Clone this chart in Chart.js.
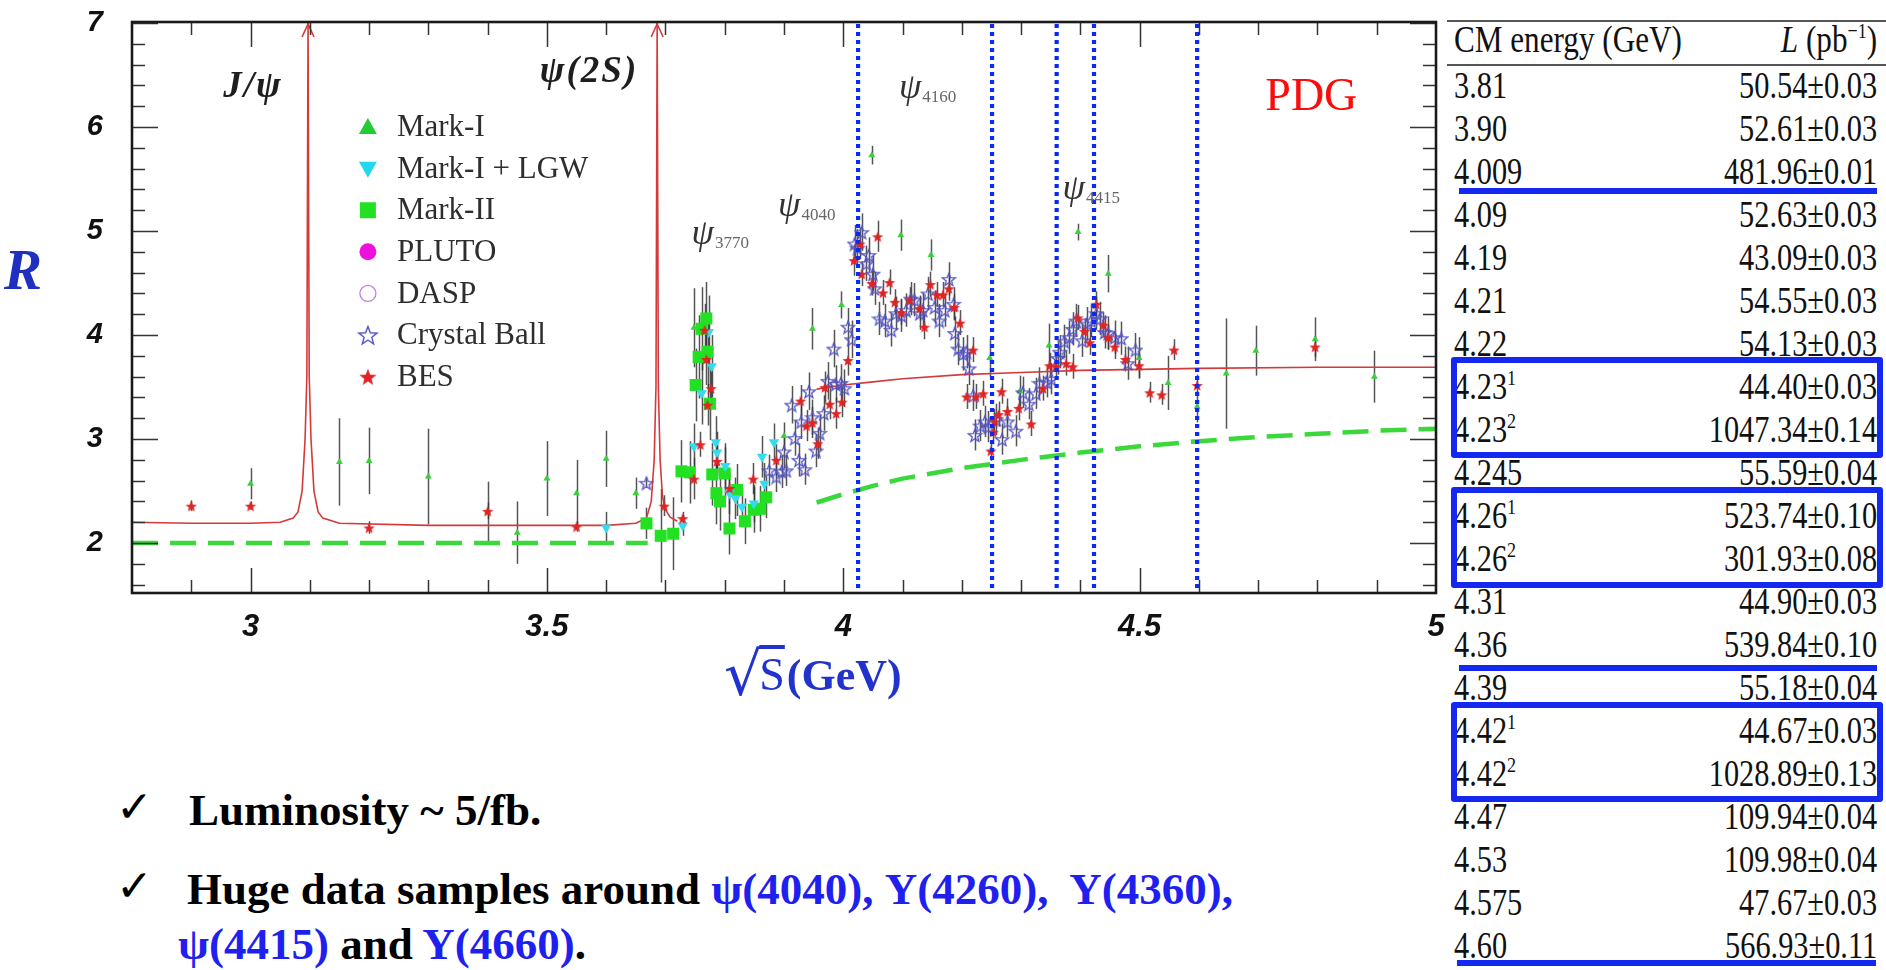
<!DOCTYPE html>
<html>
<head>
<meta charset="utf-8">
<title>R ratio scan</title>
<script src="https://cdn.jsdelivr.net/npm/chart.js@4.4.1/dist/chart.umd.min.js"></script>
<style>
  html, body { margin: 0; padding: 0; background: #fff; }
  body { width: 1886px; height: 970px; position: relative; overflow: hidden; font-family: "Liberation Serif", "Times New Roman", serif; }
  #plot { position: absolute; left: 0; top: 0; width: 1446px; height: 700px; }
  #rLabel { position: absolute; left: 4px; top: 241px; font: italic bold 57px/1 "Liberation Serif", serif; color: #1f2fbf; }
  #xTitle { position: absolute; left: 724px; top: 644px; font: 46px/1 "Liberation Serif", serif; color: #2233cc; white-space: nowrap; }
  #xTitle .rad { font-family: "DejaVu Serif", serif; font-size: 60px; vertical-align: -5px; }
  #xTitle .ov { text-decoration: overline; margin-left: -3px; padding-right: 2px; }
  #xTitle b { font-weight: bold; font-size: 44px; }

  .rule { position: absolute; background: #555; height: 2px; left: 1447px; width: 439px; }
  .blue { position: absolute; background: #1428f0; height: 6px; }
  .box { position: absolute; border: 6px solid #1428f0; border-radius: 3px; box-sizing: border-box; left: 1451px; width: 432px; z-index: 2; }
  #tbl { position: absolute; left: 1454px; top: 0; width: 516px; transform: scaleX(0.82); transform-origin: 0 0; color: #111; font-size: 37px; }
  #tbl .row { position: absolute; left: 0; width: 516px; height: 43px; line-height: 43px; display: flex; justify-content: space-between; white-space: nowrap; }
  #tbl sup { font-size: 22px; vertical-align: 14px; line-height: 0; }

  .chk { position: absolute; font: 44px/1 "DejaVu Sans", sans-serif; color: #000; }
  .note { position: absolute; font: bold 45px/1 "Liberation Serif", serif; color: #000; white-space: nowrap; }
  .note .b { color: #1f1ff0; }
</style>
</head>
<body>
<div id="plot"><canvas id="rChart"></canvas></div>
<div id="rLabel">R</div>
<div id="xTitle"><span class="rad">√</span><span class="ov">S</span><b>(GeV)</b></div>

<div class="rule" style="top:20px"></div>
<div class="rule" style="top:64px"></div>
<div id="tbl"></div>
<div class="blue" style="left:1459px; top:188px; width:418px"></div>
<div class="box" style="top:357px; height:101px"></div>
<div class="box" style="top:487px; height:101px"></div>
<div class="blue" style="left:1459px; top:665px; width:418px"></div>
<div class="box" style="top:702px; height:100px"></div>
<div class="blue" style="left:1457px; top:960px; width:419px"></div>

<div class="chk" style="left:116px; top:785px">✓</div>
<div class="note" style="left:189px; top:788px">Luminosity ~ 5/fb.</div>
<div class="chk" style="left:116px; top:864px">✓</div>
<div class="note" style="left:187px; top:867px">Huge data samples around <span class="b">ψ(4040), Y(4260),&nbsp; Y(4360),</span></div>
<div class="note" style="left:178px; top:922px"><span class="b">ψ(4415)</span> and <span class="b">Y(4660)</span>.</div>

<script>
// axis ticks
const xTickValues = [3, 3.5, 4, 4.5, 5];
const yTickValues = [2, 3, 4, 5, 6, 7];

// measurements: [sqrt(s) GeV, R, error]
const markI = [
  [3.00, 2.57, 0.15], [3.15, 2.78, 0.42], [3.20, 2.79, 0.32], [3.30, 2.64, 0.46], [3.40, 2.30, 0.29],
  [3.45, 2.10, 0.30], [3.50, 2.62, 0.36], [3.55, 2.48, 0.32], [3.60, 2.81, 0.27], [3.65, 2.48, 0.15],
  [3.748, 4.07, 0.38], [3.900, 3.03, 0.13], [3.948, 4.06, 0.20], [3.997, 4.29, 0.13], [4.048, 5.73, 0.09],
  [4.097, 4.96, 0.15], [4.148, 4.77, 0.15], [4.247, 3.78, 0.18], [4.298, 3.46, 0.15], [4.347, 3.90, 0.21],
  [4.396, 4.99, 0.08], [4.447, 4.59, 0.18], [4.499, 3.78, 0.20], [4.548, 3.54, 0.26], [4.597, 3.31, 0.15],
  [4.646, 3.63, 0.53], [4.696, 3.85, 0.24], [4.796, 3.96, 0.21], [4.896, 3.60, 0.25]
];
const markILgw = [
  [3.600, 2.15, 0.15], [3.729, 2.17, 0.10], [3.748, 2.93, 0.22], [3.761, 3.44, 0.30], [3.773, 4.03, 0.35],
  [3.778, 3.70, 0.30], [3.785, 2.97, 0.25], [3.787, 2.87, 0.20], [3.801, 2.74, 0.22], [3.808, 2.48, 0.20],
  [3.818, 2.43, 0.20], [3.829, 2.35, 0.18], [3.849, 2.38, 0.18], [3.863, 2.83, 0.20], [3.867, 2.57, 0.20],
  [3.883, 2.97, 0.18]
];
const markII = [
  [3.668, 2.19, 0.15], [3.692, 2.07, 0.45], [3.713, 2.09, 0.35], [3.727, 2.69, 0.30], [3.741, 2.68, 0.30],
  [3.751, 3.52, 0.35], [3.756, 3.79, 0.40], [3.761, 4.06, 0.40], [3.769, 4.16, 0.35], [3.771, 3.84, 0.35],
  [3.775, 3.34, 0.35], [3.779, 2.66, 0.30], [3.786, 2.48, 0.30], [3.792, 2.40, 0.28], [3.800, 2.67, 0.25],
  [3.808, 2.14, 0.25], [3.821, 2.51, 0.25], [3.834, 2.21, 0.22], [3.849, 2.32, 0.22], [3.860, 2.33, 0.22],
  [3.870, 2.44, 0.20]
];
const pluto = [];
const dasp = [];
const crystalBall = [
  [3.668, 2.58, 0.05], [3.875, 2.70, 0.15], [3.887, 2.64, 0.15], [3.896, 2.69, 0.16], [3.900, 2.88, 0.16],
  [3.904, 2.70, 0.15], [3.913, 3.33, 0.18], [3.918, 3.01, 0.17], [3.925, 2.80, 0.16], [3.929, 3.17, 0.17],
  [3.935, 2.71, 0.15], [3.942, 3.46, 0.18], [3.948, 3.21, 0.17], [3.954, 2.89, 0.16], [3.960, 3.06, 0.17],
  [3.967, 3.25, 0.17], [3.974, 3.56, 0.18], [3.984, 3.87, 0.18], [3.987, 3.53, 0.18], [3.996, 3.54, 0.18],
  [4.002, 3.49, 0.18], [4.008, 4.08, 0.18], [4.014, 3.96, 0.18], [4.019, 4.88, 0.18], [4.024, 4.84, 0.18],
  [4.031, 4.99, 0.18], [4.039, 4.69, 0.17], [4.043, 4.77, 0.17], [4.050, 4.59, 0.17], [4.053, 4.45, 0.16],
  [4.061, 4.16, 0.16], [4.070, 4.14, 0.16], [4.081, 4.05, 0.16], [4.089, 4.21, 0.16], [4.098, 4.19, 0.16],
  [4.106, 4.24, 0.16], [4.114, 4.35, 0.16], [4.120, 4.34, 0.16], [4.129, 4.21, 0.16], [4.134, 4.24, 0.16],
  [4.143, 4.40, 0.16], [4.154, 4.27, 0.16], [4.162, 4.14, 0.16], [4.171, 4.24, 0.16], [4.178, 4.54, 0.16],
  [4.186, 4.30, 0.16], [4.188, 4.02, 0.16], [4.194, 3.87, 0.16], [4.202, 3.82, 0.16], [4.208, 3.84, 0.16],
  [4.212, 3.68, 0.16], [4.219, 3.42, 0.15], [4.222, 3.04, 0.15], [4.231, 3.13, 0.15], [4.239, 3.17, 0.15],
  [4.245, 3.12, 0.15], [4.258, 3.19, 0.15], [4.268, 3.00, 0.15], [4.277, 3.17, 0.15], [4.291, 3.08, 0.15],
  [4.303, 3.45, 0.15], [4.313, 3.34, 0.15], [4.325, 3.44, 0.15], [4.331, 3.54, 0.15], [4.343, 3.55, 0.15],
  [4.351, 3.58, 0.15], [4.362, 3.78, 0.16], [4.365, 3.84, 0.16], [4.373, 3.94, 0.16], [4.381, 3.98, 0.16],
  [4.387, 4.06, 0.16], [4.393, 4.14, 0.16], [4.403, 3.95, 0.16], [4.411, 4.11, 0.16], [4.418, 4.14, 0.16],
  [4.427, 4.21, 0.16], [4.433, 4.16, 0.16], [4.441, 4.03, 0.16], [4.447, 4.02, 0.16], [4.458, 3.98, 0.16],
  [4.469, 3.97, 0.16], [4.480, 3.73, 0.16], [4.493, 3.86, 0.16]
];
const bes = [
  [2.90, 2.36, 0.05], [3.00, 2.36, 0.04], [3.20, 2.15, 0.06], [3.40, 2.31, 0.08], [3.55, 2.16, 0.05],
  [3.698, 2.36, 0.10], [3.729, 2.24, 0.06], [3.748, 2.62, 0.20], [3.759, 2.95, 0.12], [3.766, 4.05, 0.25],
  [3.769, 3.77, 0.25], [3.771, 3.33, 0.20], [3.777, 3.49, 0.20], [3.787, 2.79, 0.15], [3.808, 2.53, 0.15],
  [3.848, 2.62, 0.15], [3.887, 2.80, 0.15], [3.928, 3.37, 0.15], [3.938, 3.13, 0.15], [3.948, 3.16, 0.15],
  [3.957, 2.96, 0.15], [3.969, 3.50, 0.15], [3.977, 3.34, 0.15], [3.988, 3.25, 0.15], [3.998, 3.36, 0.15],
  [4.008, 3.76, 0.15], [4.018, 4.72, 0.15], [4.028, 4.88, 0.15], [4.031, 4.59, 0.12], [4.048, 4.50, 0.12],
  [4.058, 4.95, 0.15], [4.067, 4.41, 0.12], [4.078, 4.51, 0.12], [4.087, 4.32, 0.12], [4.098, 4.22, 0.12],
  [4.112, 4.34, 0.12], [4.129, 4.26, 0.12], [4.137, 4.08, 0.12], [4.147, 4.49, 0.12], [4.158, 4.39, 0.12],
  [4.168, 4.39, 0.12], [4.178, 4.45, 0.12], [4.187, 4.27, 0.12], [4.197, 4.12, 0.12], [4.208, 3.41, 0.12],
  [4.219, 3.86, 0.12], [4.224, 3.41, 0.12], [4.236, 3.44, 0.12], [4.249, 2.89, 0.10], [4.253, 3.07, 0.12],
  [4.255, 3.17, 0.12], [4.262, 3.24, 0.12], [4.267, 3.46, 0.12], [4.277, 3.27, 0.12], [4.296, 3.30, 0.12],
  [4.317, 3.15, 0.12], [4.337, 3.49, 0.12], [4.348, 3.71, 0.12], [4.359, 3.70, 0.12], [4.376, 3.73, 0.12],
  [4.387, 3.70, 0.12], [4.396, 4.17, 0.12], [4.407, 4.04, 0.12], [4.416, 3.93, 0.12], [4.427, 4.30, 0.12],
  [4.439, 4.10, 0.12], [4.447, 3.98, 0.12], [4.458, 3.89, 0.12], [4.476, 3.77, 0.12], [4.499, 3.71, 0.12],
  [4.517, 3.45, 0.10], [4.537, 3.43, 0.10], [4.558, 3.86, 0.10], [4.597, 3.52, 0.10], [4.796, 3.89, 0.10]
];

// curves: [sqrt(s), R]; null breaks the line
const fitCurve = [
  [2.80, 2.20], [2.90, 2.19], [3.00, 2.19], [3.05, 2.20], [3.072, 2.24], [3.080, 2.30], [3.087, 2.50],
  [3.092, 3.00], [3.095, 3.60], [3.097, 7.00], [3.099, 3.60], [3.102, 3.00], [3.107, 2.50], [3.114, 2.30],
  [3.122, 2.24], [3.15, 2.19], [3.30, 2.17], [3.45, 2.17], [3.60, 2.17], [3.65, 2.19], [3.668, 2.24],
  [3.676, 2.40], [3.681, 2.80], [3.684, 3.50], [3.686, 7.00], [3.688, 3.50], [3.691, 2.80], [3.695, 2.45],
  [3.700, 2.32], [3.708, 2.25], [3.720, 2.21], [3.73, null], [3.955, 3.48], [4.00, 3.52], [4.05, 3.55],
  [4.10, 3.58], [4.20, 3.62], [4.30, 3.64], [4.40, 3.66], [4.50, 3.67], [4.60, 3.68], [4.80, 3.69], [5.00, 3.69]
];
const partonLevel = [
  [2.80, 2.00], [3.67, 2.00], [3.68, null], [3.955, 2.39], [4.00, 2.47], [4.05, 2.55], [4.10, 2.62],
  [4.20, 2.72], [4.30, 2.80], [4.40, 2.87], [4.50, 2.93], [4.60, 2.98], [4.70, 3.02], [4.80, 3.05],
  [4.90, 3.08], [5.00, 3.10]
];
const resonancePeaks = [3.097, 3.686];
const scanEnergies = [4.025, 4.251, 4.360, 4.423, 4.597];

const peakLabels = [
  { text: 'J/ψ', sub: '', x: 2.954, y: 6.29 },
  { text: 'ψ(2S)', sub: '', x: 3.488, y: 6.43 },
  { text: 'ψ', sub: '3770', x: 3.744, y: 4.875 },
  { text: 'ψ', sub: '4040', x: 3.890, y: 5.14 },
  { text: 'ψ', sub: '4160', x: 4.094, y: 6.28 },
  { text: 'ψ', sub: '4415', x: 4.370, y: 5.31 }
];

// luminosity table
const cmEnergy = ['3.81', '3.90', '4.009', '4.09', '4.19', '4.21', '4.22', '4.23', '4.23', '4.245', '4.26',
  '4.26', '4.31', '4.36', '4.39', '4.42', '4.42', '4.47', '4.53', '4.575', '4.60'];
const runTag = ['', '', '', '', '', '', '', '1', '2', '', '1', '2', '', '', '', '1', '2', '', '', '', ''];
const lumi = ['50.54', '52.61', '481.96', '52.63', '43.09', '54.55', '54.13', '44.40', '1047.34', '55.59', '523.74',
  '301.93', '44.90', '539.84', '55.18', '44.67', '1028.89', '109.94', '109.98', '47.67', '566.93'];
const lumiErr = ['0.03', '0.03', '0.01', '0.03', '0.03', '0.03', '0.03', '0.03', '0.14', '0.04', '0.10',
  '0.08', '0.03', '0.10', '0.04', '0.03', '0.13', '0.04', '0.04', '0.03', '0.11'];

const SERIF = '"Liberation Serif", "Times New Roman", "DejaVu Serif", serif';

const toPoints = arr => arr.map(p => ({ x: p[0], y: p[1], e: p[2] }));

const makeStar = (size, fill, stroke, lw) => {
  const c = document.createElement('canvas');
  c.width = c.height = size;
  const g = c.getContext('2d');
  const m = size / 2, R = size / 2 - lw, r = R * 0.42;
  g.beginPath();
  for (let i = 0; i < 10; i++) {
    const rad = i % 2 ? r : R;
    const a = -Math.PI / 2 + i * Math.PI / 5;
    g.lineTo(m + rad * Math.cos(a), m + 1 + rad * Math.sin(a));
  }
  g.closePath();
  if (fill) { g.fillStyle = fill; g.fill(); }
  if (stroke) { g.strokeStyle = stroke; g.lineWidth = lw; g.stroke(); }
  return c;
};

const cbStar = makeStar(16, null, '#5252c4', 1.3);
const besStar = makeStar(14, '#e02424', null, 1);
const cbStarBig = makeStar(22, null, '#5252c4', 1.4);
const besStarBig = makeStar(20, '#e02424', null, 1);

// legend rows, top to bottom
const legendRows = [
  { label: 'Mark-I', kind: 'tri', color: '#22cc33' },
  { label: 'Mark-I + LGW', kind: 'itri', color: '#22d8ee' },
  { label: 'Mark-II', kind: 'sq', color: '#22e022' },
  { label: 'PLUTO', kind: 'dot', color: '#ee11dd' },
  { label: 'DASP', kind: 'ring', color: '#c080e0' },
  { label: 'Crystal Ball', kind: 'img', img: cbStarBig },
  { label: 'BES', kind: 'img', img: besStarBig }
];

const drawMarker = (ctx, row, x, y) => {
  ctx.save();
  ctx.fillStyle = row.color;
  ctx.strokeStyle = row.color;
  ctx.beginPath();
  if (row.kind === 'tri') {
    ctx.moveTo(x, y - 9); ctx.lineTo(x + 9, y + 7); ctx.lineTo(x - 9, y + 7); ctx.closePath(); ctx.fill();
  } else if (row.kind === 'itri') {
    ctx.moveTo(x, y + 9); ctx.lineTo(x + 9, y - 7); ctx.lineTo(x - 9, y - 7); ctx.closePath(); ctx.fill();
  } else if (row.kind === 'sq') {
    ctx.rect(x - 8, y - 8, 16, 16); ctx.fill();
  } else if (row.kind === 'dot') {
    ctx.arc(x, y, 8.5, 0, Math.PI * 2); ctx.fill();
  } else if (row.kind === 'ring') {
    ctx.lineWidth = 1.3; ctx.arc(x, y, 8, 0, Math.PI * 2); ctx.stroke();
  } else if (row.kind === 'img') {
    ctx.drawImage(row.img, x - row.img.width / 2, y - row.img.height / 2);
  }
  ctx.restore();
};

const decorPlugin = {
  id: 'decor',
  beforeDatasetsDraw(chart) {
    const { ctx, chartArea: a, scales: { x, y } } = chart;
    ctx.save();
    ctx.beginPath();
    ctx.rect(a.left, a.top, a.right - a.left, a.bottom - a.top);
    ctx.clip();
    ctx.strokeStyle = 'rgba(55,55,55,0.85)';
    ctx.lineWidth = 1.5;
    chart.data.datasets.forEach(ds => {
      if (!ds.errorBars) return;
      ds.data.forEach(p => {
        const X = Math.round(x.getPixelForValue(p.x)) + 0.5;
        ctx.beginPath();
        ctx.moveTo(X, y.getPixelForValue(p.y - p.e));
        ctx.lineTo(X, y.getPixelForValue(p.y + p.e));
        ctx.stroke();
      });
    });
    ctx.restore();
  },
  afterDatasetsDraw(chart) {
    const { ctx, chartArea: a, scales: { x, y } } = chart;
    ctx.save();

    // arrow heads on the narrow resonances
    ctx.strokeStyle = '#d43a3a';
    ctx.lineWidth = 1.6;
    resonancePeaks.forEach(v => {
      const X = x.getPixelForValue(v);
      ctx.beginPath();
      ctx.moveTo(X - 6, a.top + 15);
      ctx.lineTo(X, a.top + 2);
      ctx.lineTo(X + 6, a.top + 15);
      ctx.stroke();
    });

    // blue dotted markers of the data-taking energies
    ctx.strokeStyle = '#0a2af5';
    ctx.lineWidth = 4.2;
    ctx.setLineDash([4, 4]);
    scanEnergies.forEach(v => {
      const X = x.getPixelForValue(v);
      ctx.beginPath();
      ctx.moveTo(X, a.top + 2);
      ctx.lineTo(X, a.bottom);
      ctx.stroke();
    });
    ctx.setLineDash([]);

    // inward ticks on all four sides
    ctx.strokeStyle = '#333';
    ctx.lineWidth = 1.5;
    for (let k = 8; k <= 35; k++) {
      const Y = Math.round(y.getPixelForValue(k / 5)) + 0.5;
      const len = k % 5 === 0 ? 26 : 13;
      ctx.beginPath();
      ctx.moveTo(a.left, Y); ctx.lineTo(a.left + len, Y);
      ctx.moveTo(a.right, Y); ctx.lineTo(a.right - len, Y);
      ctx.stroke();
    }
    for (let k = 29; k <= 49; k++) {
      const X = Math.round(x.getPixelForValue(k / 10)) + 0.5;
      const len = k % 5 === 0 ? 25 : 13;
      ctx.beginPath();
      ctx.moveTo(X, a.bottom); ctx.lineTo(X, a.bottom - len);
      ctx.moveTo(X, a.top); ctx.lineTo(X, a.top + len);
      ctx.stroke();
    }

    // frame
    ctx.strokeStyle = '#1a1a1a';
    ctx.lineWidth = 2.6;
    ctx.strokeRect(a.left, a.top, a.right - a.left, a.bottom - a.top);

    // resonance labels
    ctx.textBaseline = 'alphabetic';
    ctx.textAlign = 'left';
    peakLabels.forEach(l => {
      const X = x.getPixelForValue(l.x), Y = y.getPixelForValue(l.y);
      if (!l.sub) {
        ctx.fillStyle = '#1e1e1e';
        ctx.font = 'italic bold 37px ' + SERIF;
        ctx.letterSpacing = '2px';
        ctx.fillText(l.text, X, Y);
        ctx.letterSpacing = '0px';
      } else {
        ctx.fillStyle = '#333';
        ctx.font = 'italic 36px ' + SERIF;
        ctx.fillText(l.text, X, Y);
        const w = ctx.measureText(l.text).width;
        ctx.fillStyle = '#666';
        ctx.font = '17px ' + SERIF;
        ctx.fillText(l.sub, X + w + 1, Y + 4);
      }
    });

    // PDG tag
    ctx.fillStyle = '#ff0a0a';
    ctx.font = '46px ' + SERIF;
    ctx.fillText('PDG', x.getPixelForValue(4.712), y.getPixelForValue(6.16));

    // legend
    ctx.font = '31px ' + SERIF;
    ctx.textBaseline = 'middle';
    legendRows.forEach((row, i) => {
      const Y = y.getPixelForValue(6.0 - 0.4 * i);
      drawMarker(ctx, row, x.getPixelForValue(3.198), Y);
      ctx.fillStyle = '#2e2e2e';
      ctx.fillText(row.label, x.getPixelForValue(3.247), Y + 1);
    });
    ctx.restore();
  }
};

const tickFont = size => ({ family: 'Liberation Sans', size, weight: 'bold', style: 'italic' });

// keep the plot frame where it is: no extra room for edge tick labels
const fixX = s => { s.height = 107; s.paddingLeft = 0; s.paddingRight = 0; };
const fixY = s => { s.width = 132; s.paddingTop = 0; s.paddingBottom = 0; };

const rChart = new Chart(document.getElementById('rChart'), {
  type: 'scatter',
  data: {
    datasets: [
      { label: 'BES', data: toPoints(bes), errorBars: true, pointStyle: besStar, order: 0 },
      { label: 'Crystal Ball', data: toPoints(crystalBall), errorBars: true, pointStyle: cbStar, order: 1 },
      { label: 'Mark-I', data: toPoints(markI), errorBars: true, pointStyle: 'triangle', pointRadius: 4,
        backgroundColor: '#3ccf3c', borderColor: '#3ccf3c', borderWidth: 0, order: 2 },
      { label: 'Mark-I + LGW', data: toPoints(markILgw), errorBars: true, pointStyle: 'triangle', rotation: 180,
        pointRadius: 6, backgroundColor: '#33dcee', borderColor: '#33dcee', borderWidth: 0, order: 3 },
      { label: 'Mark-II', data: toPoints(markII), errorBars: true, pointStyle: 'rect', pointRadius: 8.5,
        backgroundColor: '#22e022', borderColor: '#22e022', borderWidth: 0, order: 4 },
      { label: 'PLUTO', data: toPoints(pluto), errorBars: true, pointStyle: 'circle', pointRadius: 5,
        backgroundColor: '#ee11dd', order: 5 },
      { label: 'DASP', data: toPoints(dasp), errorBars: true, pointStyle: 'circle', pointRadius: 5,
        backgroundColor: 'transparent', borderColor: '#c080e0', order: 6 },
      { type: 'line', label: 'fit', data: fitCurve.map(p => ({ x: p[0], y: p[1] })), borderColor: '#d43a3a',
        borderWidth: 1.6, pointRadius: 0, tension: 0, spanGaps: false, fill: false, order: 8 },
      { type: 'line', label: 'parton', data: partonLevel.map(p => ({ x: p[0], y: p[1] })), borderColor: '#3ad83a',
        borderWidth: 4.5, borderDash: [26, 12], pointRadius: 0, tension: 0, spanGaps: false, fill: false, order: 9 }
    ]
  },
  options: {
    responsive: true,
    maintainAspectRatio: false,
    animation: false,
    events: [],
    layout: { padding: { top: 22, right: 10, left: 0, bottom: 0 } },
    plugins: { legend: { display: false }, tooltip: { enabled: false } },
    scales: {
      x: {
        type: 'linear', min: 2.8, max: 5.0,
        grid: { display: false, drawTicks: false },
        border: { display: false },
        afterBuildTicks: s => { s.ticks = xTickValues.map(v => ({ value: v })); },
        afterFit: fixX,
        ticks: { font: tickFont(31), color: '#111', padding: 16, maxRotation: 0, autoSkip: false, callback: v => String(v) }
      },
      y: {
        type: 'linear', min: 1.52, max: 7.01,
        grid: { display: false, drawTicks: false },
        border: { display: false },
        afterBuildTicks: s => { s.ticks = yTickValues.map(v => ({ value: v })); },
        afterFit: fixY,
        ticks: { font: tickFont(29), color: '#111', padding: 29, autoSkip: false, callback: v => String(v) }
      }
    }
  },
  plugins: [decorPlugin]
});

// redraw once the fonts are surely available to the canvas
if (document.fonts) {
  document.fonts.load('31px "Liberation Serif"').then(() => rChart.draw());
  document.fonts.ready.then(() => rChart.draw());
}

// luminosity table
const tbl = document.getElementById('tbl');
let rows = '<div class="row" style="top:18px; font-size:38px"><span>CM energy (GeV)</span><span><i>L</i> (pb<sup>−1</sup>)</span></div>';
cmEnergy.forEach((e, i) => {
  const top = 63.5 + 43 * i;
  rows += `<div class="row" style="top:${top}px"><span>${e}${runTag[i] ? `<sup>${runTag[i]}</sup>` : ''}</span>` +
    `<span>${lumi[i]}±${lumiErr[i]}</span></div>`;
});
tbl.innerHTML = rows;
</script>
</body>
</html>
